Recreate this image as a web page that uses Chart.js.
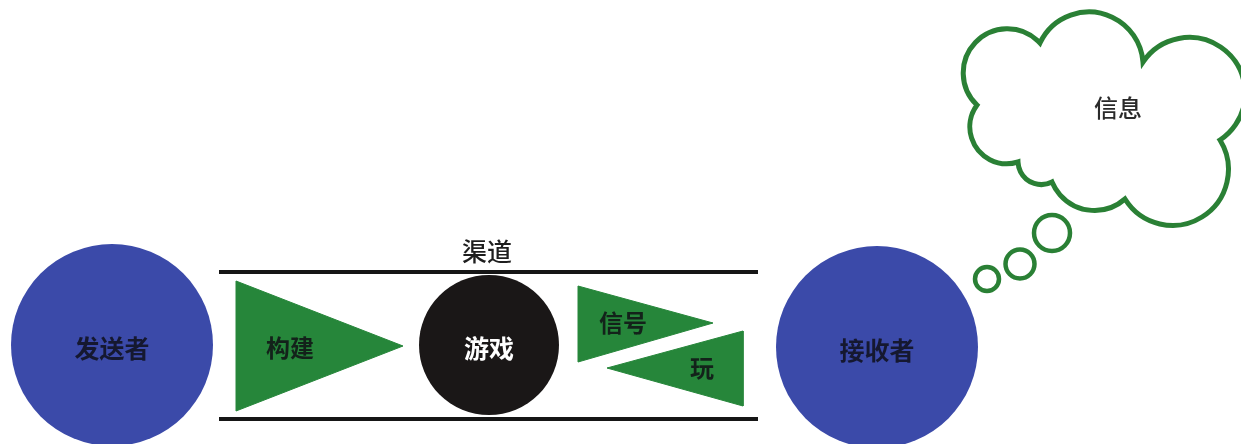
<!DOCTYPE html>
<html>
<head>
<meta charset="utf-8">
<script src="https://cdn.jsdelivr.net/npm/chart.js@4"></script>
<style>
    html, body { margin: 0; background: #fff; }
    #wrap { width: 1241px; height: 444px; position: relative; }
</style>
</head>
<body>
<div id="wrap"><canvas id="c"></canvas></div>
<script>
// big nodes: sender, game, receiver
const nodeNames = ["发送者", "游戏", "接收者"];
const nodeX = [112, 489, 877];
const nodeY = [345, 345, 347];
const nodeR = [101, 70, 101];

// the two rails of the channel
const railX = [219, 758];
const railY = [272, 419];
const channelName = "渠道";

// triangles (three corners each) and their labels
const arrowNames = ["构建", "信号", "玩"];
const arrowXs = [[236, 403, 236], [578, 713, 578], [607, 743, 743]];
const arrowYs = [[281, 346, 411], [286, 323, 362], [368, 331, 406]];
const arrowLabelX = [290, 623, 702];
const arrowLabelY = [348, 323, 368];

// small thought bubbles
const bubbleX = [987, 1020, 1052];
const bubbleY = [279, 264, 233];
const bubbleR = [12, 14.5, 18];

// cloud outline: cusps, and one peak on each bump between cusp i and i+1
const cuspX = [1040, 1143, 1220, 1125, 1052, 1018, 977];
const cuspY = [43, 62, 140, 199, 182, 162, 105];
const peakX = [1090, 1222, 1205, 1088, 1033, 978, 974];
const peakY = [12, 48, 215, 210, 183, 150, 44];
const cloudName = "信息";

const FONT = '"Noto Sans CJK SC", "Noto Sans", sans-serif';

let datasets = [];

railY.forEach(y => {
    datasets.push({
        data: railX.map(x => ({ x, y })),
        showLine: true,
        borderColor: "#161616",
        borderWidth: 4,
        pointRadius: 0,
        fill: false
    });
});

arrowXs.forEach((xs, i) => {
    let pts = xs.map((x, j) => ({ x, y: arrowYs[i][j] }));
    pts.push(pts[0]);
    datasets.push({
        data: pts,
        showLine: true,
        borderColor: "#26863a",
        borderWidth: 1,
        backgroundColor: "#26863a",
        pointRadius: 0,
        tension: 0,
        fill: "shape"
    });
});

// circle through three points
function circum(ax, ay, bx, by, cx, cy) {
    let d = 2 * (ax * (by - cy) + bx * (cy - ay) + cx * (ay - by));
    let a2 = ax * ax + ay * ay, b2 = bx * bx + by * by, c2 = cx * cx + cy * cy;
    let ux = (a2 * (by - cy) + b2 * (cy - ay) + c2 * (ay - by)) / d;
    let uy = (a2 * (cx - bx) + b2 * (ax - cx) + c2 * (bx - ax)) / d;
    return { x: ux, y: uy, r: Math.hypot(ax - ux, ay - uy) };
}

function norm(a) {
    a = a % (2 * Math.PI);
    return a < 0 ? a + 2 * Math.PI : a;
}

const shapes = {
    id: "shapes",
    afterDatasetsDraw(chart) {
        const ctx = chart.ctx;
        const sx = chart.scales.x, sy = chart.scales.y;
        const px = v => sx.getPixelForValue(v);
        const py = v => sy.getPixelForValue(v);
        const len = r => Math.abs(px(r) - px(0));

        ctx.save();

        // big nodes
        nodeNames.forEach((name, i) => {
            ctx.beginPath();
            ctx.arc(px(nodeX[i]), py(nodeY[i]), len(nodeR[i]), 0, Math.PI * 2);
            ctx.fillStyle = i === 1 ? "#1a1717" : "#3b4aa9";
            ctx.fill();
            ctx.fillStyle = i === 1 ? "#ffffff" : "#151830";
            ctx.font = "bold 25px " + FONT;
            ctx.textAlign = "center";
            ctx.textBaseline = "middle";
            ctx.fillText(name, px(nodeX[i]), py(nodeY[i] + 3));
        });

        // bubbles
        ctx.strokeStyle = "#2a8035";
        ctx.lineWidth = 4.5;
        bubbleX.forEach((x, i) => {
            ctx.beginPath();
            ctx.arc(px(x), py(bubbleY[i]), len(bubbleR[i]), 0, Math.PI * 2);
            ctx.stroke();
        });

        // cloud
        ctx.beginPath();
        let n = cuspX.length;
        for (let i = 0; i < n; i++) {
            let ax = px(cuspX[i]), ay = py(cuspY[i]);
            let bx = px(cuspX[(i + 1) % n]), by = py(cuspY[(i + 1) % n]);
            let mx = px(peakX[i]), my = py(peakY[i]);
            let c = circum(ax, ay, mx, my, bx, by);
            let a0 = Math.atan2(ay - c.y, ax - c.x);
            let a1 = Math.atan2(by - c.y, bx - c.x);
            let am = Math.atan2(my - c.y, mx - c.x);
            // go clockwise if the peak sits on the clockwise way from a0 to a1
            let cw = norm(am - a0) < norm(a1 - a0);
            if (i === 0) ctx.moveTo(ax, ay);
            ctx.arc(c.x, c.y, c.r, a0, a1, !cw);
        }
        ctx.closePath();
        ctx.lineWidth = 5;
        ctx.lineJoin = "miter";
        ctx.stroke();

        // labels
        ctx.textAlign = "center";
        ctx.textBaseline = "middle";
        ctx.font = "bold 24px " + FONT;
        ctx.fillStyle = "#13221a";
        arrowNames.forEach((name, i) => {
            ctx.fillText(name, px(arrowLabelX[i]), py(arrowLabelY[i]));
        });
        ctx.fillStyle = "#1e1e1e";
        ctx.font = "500 25px " + FONT;
        ctx.fillText(channelName, px(487), py(251));
        ctx.fillStyle = "#2a2a2a";
        ctx.font = "500 24px " + FONT;
        ctx.fillText(cloudName, px(1118), py(108));

        ctx.restore();
    }
};

new Chart(document.getElementById("c"), {
    type: "scatter",
    data: { datasets },
    options: {
        responsive: true,
        maintainAspectRatio: false,
        animation: false,
        layout: { padding: 0 },
        scales: {
            x: { type: "linear", min: 0, max: 1241, display: false },
            y: { type: "linear", min: 0, max: 444, reverse: true, display: false }
        },
        plugins: { legend: { display: false }, tooltip: { enabled: false } }
    },
    plugins: [shapes]
});
</script>
</body>
</html>
